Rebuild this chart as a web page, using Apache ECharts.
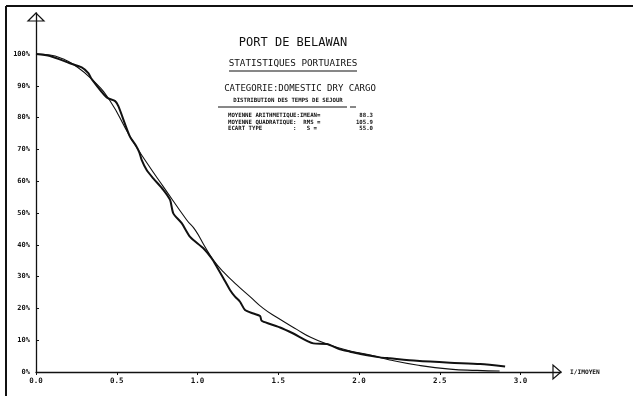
<!DOCTYPE html>
<html>
<head>
<meta charset="utf-8">
<script src="https://cdn.jsdelivr.net/npm/echarts@6/dist/echarts.min.js"></script>
<style>
  html, body { margin: 0; padding: 0; background: #fff; }
  #chart { width: 633px; height: 396px; }
</style>
</head>
<body>
<div id="chart"></div>
<script>
// distribution observee (trait epais) : [I/IMOYEN, %]
const observed = [
  [0, 100], [0.087, 99.4], [0.21, 97.1], [0.283, 95.8], [0.324, 94.0], [0.345, 92.1],
  [0.438, 86.3], [0.49, 85.2], [0.51, 83.6], [0.58, 74.2], [0.62, 71.1], [0.64, 69.0],
  [0.654, 66.7], [0.685, 63.5], [0.726, 60.9], [0.788, 57.3], [0.83, 54.1], [0.85, 49.9],
  [0.902, 46.8], [0.954, 42.5], [1.036, 38.9], [1.088, 35.7], [1.119, 33.1], [1.16, 29.5],
  [1.201, 25.8], [1.232, 23.7], [1.263, 22.1], [1.294, 19.5], [1.346, 18.4], [1.387, 17.6],
  [1.397, 16.1], [1.449, 15.1], [1.511, 14.0], [1.593, 12.1], [1.717, 9.0], [1.80, 8.8],
  [1.882, 7.1], [1.944, 6.4], [2.017, 5.6], [2.13, 4.6], [2.19, 4.3], [2.357, 3.5],
  [2.563, 2.9], [2.75, 2.5], [2.904, 1.7]
]
// courbe theorique (trait fin)
const fitted = [
  [0, 100], [0.087, 99.7], [0.17, 98.4], [0.23, 96.8], [0.345, 92.1], [0.458, 85.3],
  [0.58, 74.2], [0.686, 65.8], [0.788, 58.3], [0.933, 47.8], [0.985, 44.7], [1.046, 39.4],
  [1.098, 35.2], [1.16, 31.5], [1.243, 27.4], [1.325, 23.7], [1.407, 20.0], [1.49, 17.2],
  [1.614, 13.4], [1.70, 10.9], [1.80, 8.8], [1.944, 6.6], [2.048, 5.6], [2.19, 3.8],
  [2.357, 2.2], [2.563, 0.9], [2.73, 0.5], [2.87, 0.3]
]
const xTicks = [0, 0.5, 1.0, 1.5, 2.0, 2.5, 3.0]
const yTicks = [0, 10, 20, 30, 40, 50, 60, 70, 80, 90, 100]
const statLabels = ['MOYENNE ARITHMETIQUE:IMEAN=', 'MOYENNE QUADRATIQUE:  RMS =', 'ECART TYPE         :   S =']
const statValues = ['88.3', '105.9', '55.0']

const font = 'DejaVu Sans Mono'
const ink = '#111'

let myChart = echarts.init(document.getElementById('chart'))

function txt(x, y, text, size, align, weight) {
  return {
    type: 'text', x: x, y: y, silent: true,
    style: { text: text, fontFamily: font, fontSize: size, fill: ink, align: align || 'left', verticalAlign: 'middle', fontWeight: weight || 'normal' }
  }
}
function seg(x1, y1, x2, y2, w) {
  return { type: 'line', silent: true, shape: { x1: x1, y1: y1, x2: x2, y2: y2 }, style: { stroke: ink, lineWidth: w || 1 } }
}

myChart.setOption({
  animation: false,
  backgroundColor: '#fff',
  grid: { left: 36, right: 72, top: 13, bottom: 24, containLabel: false },
  xAxis: {
    type: 'value',
    min: 0,
    max: 3.25,
    splitLine: { show: false },
    axisLine: { lineStyle: { color: ink, width: 1.3 } },
    axisTick: { customValues: xTicks, length: 3, lineStyle: { color: ink } },
    axisLabel: {
      customValues: xTicks,
      color: ink, fontFamily: font, fontSize: 7.5, fontWeight: 'bold', margin: 5,
      formatter: v => v.toFixed(1)
    }
  },
  yAxis: {
    type: 'value',
    min: 0,
    max: 112.9,
    splitLine: { show: false },
    axisLine: { lineStyle: { color: ink, width: 1.3 } },
    axisTick: { customValues: yTicks, inside: true, length: 3, lineStyle: { color: ink } },
    axisLabel: {
      customValues: yTicks,
      color: ink, fontFamily: font, fontSize: 7, fontWeight: 'bold', margin: 6,
      formatter: v => v + '%'
    }
  },
  series: [
    {
      name: 'fitted',
      type: 'line',
      data: fitted,
      smooth: 0.5,
      showSymbol: false,
      lineStyle: { color: ink, width: 1.1 }
    },
    {
      name: 'observed',
      type: 'line',
      data: observed,
      smooth: 0.25,
      showSymbol: false,
      lineStyle: { color: ink, width: 2 }
    }
  ]
})

// fleches des axes, cadre, textes
const o = myChart.convertToPixel({ gridIndex: 0 }, [0, 0])
const yTip = myChart.convertToPixel({ gridIndex: 0 }, [0, 112.9])
const xTip = myChart.convertToPixel({ gridIndex: 0 }, [3.25, 0])

myChart.setOption({
  graphic: [
    { type: 'polygon', silent: true, shape: { points: [[yTip[0], yTip[1]], [yTip[0] - 8, yTip[1] + 8], [yTip[0] + 8, yTip[1] + 8]] }, style: { fill: 'none', stroke: ink, lineWidth: 1.2 } },
    { type: 'polygon', silent: true, shape: { points: [[xTip[0], xTip[1]], [xTip[0] - 8, xTip[1] - 7], [xTip[0] - 8, xTip[1] + 7]] }, style: { fill: 'none', stroke: ink, lineWidth: 1.2 } },
    txt(xTip[0] + 9, o[1], 'I/IMOYEN', 6.2, 'left', 'bold'),
    seg(6, 6, 633, 6, 2),
    seg(6, 6, 6, 396, 2),
    txt(293, 42.5, 'PORT DE BELAWAN', 12, 'center'),
    txt(293, 64, 'STATISTIQUES PORTUAIRES', 9.3, 'center'),
    seg(229, 71, 357, 71, 1.2),
    txt(300, 89, 'CATEGORIE:DOMESTIC DRY CARGO', 9, 'center'),
    txt(288, 101, 'DISTRIBUTION DES TEMPS DE SEJOUR', 5.7, 'center', 'bold'),
    seg(218, 107, 347, 107, 1),
    seg(350, 107, 356, 107, 1),
    txt(228, 116, statLabels[0], 5.7, 'left', 'bold'),
    txt(228, 122.3, statLabels[1], 5.7, 'left', 'bold'),
    txt(228, 128.7, statLabels[2], 5.7, 'left', 'bold'),
    txt(373, 116, statValues[0], 5.7, 'right', 'bold'),
    txt(373, 122.3, statValues[1], 5.7, 'right', 'bold'),
    txt(373, 128.7, statValues[2], 5.7, 'right', 'bold')
  ]
})
</script>
</body>
</html>
